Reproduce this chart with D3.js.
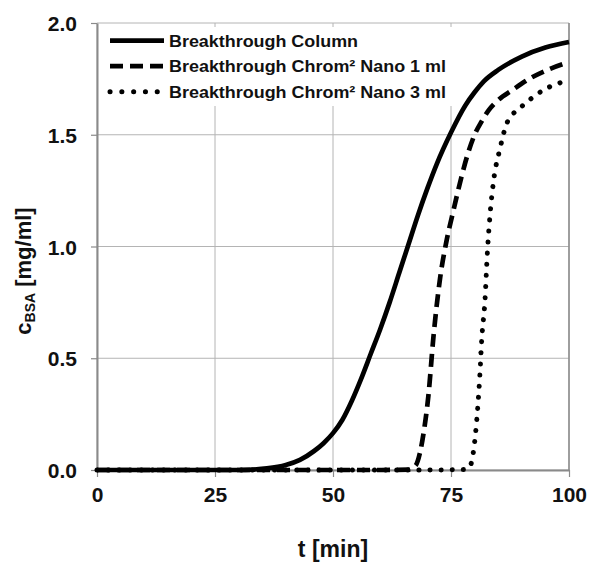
<!DOCTYPE html>
<html><head><meta charset="utf-8">
<script src="https://cdn.jsdelivr.net/npm/d3@7"></script>
<style>body{margin:0;background:#fff}svg{display:block}</style>
</head><body><svg id="c" width="589" height="562"></svg>
<script>
const xTicks = [0, 25, 50, 75, 100];
const yTicks = [0, 0.5, 1, 1.5, 2];
const yTickLabels = ["0.0", "0.5", "1.0", "1.5", "2.0"];
const seriesNames = ["Breakthrough Column", "Breakthrough Chrom\u00B2 Nano 1 ml", "Breakthrough Chrom\u00B2 Nano 3 ml"];

const tColumn = [0, 10, 20, 30, 33, 36, 40, 43, 46, 48, 50, 52, 54, 56, 58, 60, 62, 64, 66, 68, 70, 72, 75, 78, 80, 82, 85, 90, 95, 100];
const cColumn = [0, 0, 0, 0, 0.002, 0.007, 0.022, 0.045, 0.085, 0.12, 0.165, 0.225, 0.31, 0.41, 0.52, 0.63, 0.75, 0.88, 1.01, 1.14, 1.26, 1.37, 1.51, 1.63, 1.69, 1.74, 1.79, 1.85, 1.89, 1.915];

const tNano1 = [0, 10, 20, 30, 40, 50, 60, 66, 67.5, 68.4, 69.3, 70.2, 71.3, 72.7, 74.1, 75.5, 77.2, 78.5, 80, 81.5, 83, 85, 88, 92, 96, 100];
const cNano1 = [0, 0, 0, 0, 0, 0, 0, 0.002, 0.02, 0.075, 0.18, 0.33, 0.6, 0.86, 1.03, 1.16, 1.31, 1.41, 1.5, 1.56, 1.61, 1.655, 1.7, 1.755, 1.795, 1.825];

const tNano3 = [0, 10, 20, 30, 40, 50, 60, 70, 78, 79, 79.7, 80.4, 81.1, 81.5, 82.2, 82.7, 83.3, 84, 85.4, 86.8, 88, 89.6, 94.6, 100];
const cNano3 = [0, 0, 0, 0, 0, 0, 0, 0, 0.002, 0.015, 0.075, 0.21, 0.42, 0.58, 0.76, 0.97, 1.15, 1.29, 1.44, 1.55, 1.59, 1.62, 1.7, 1.745];

const svg = d3.select("#c");
const L = 97, R = 569, T = 23, B = 470;
const x = d3.scaleLinear().domain([0, 100]).range([L, R]);
const y = d3.scaleLinear().domain([0, 2]).range([B, T]);
const FONT = "'Liberation Sans', Arial, sans-serif";

// gridlines
const g = svg.append("g");
g.selectAll("line.vx").data(xTicks).enter().append("line")
  .attr("x1", d => x(d)).attr("x2", d => x(d)).attr("y1", T).attr("y2", B)
  .attr("stroke", "#b4b4b4").attr("stroke-width", 1);
g.selectAll("line.hy").data(yTicks).enter().append("line")
  .attr("x1", L).attr("x2", R).attr("y1", d => y(d)).attr("y2", d => y(d))
  .attr("stroke", "#b4b4b4").attr("stroke-width", 1);

// axes
const xAxis = d3.axisBottom(x).tickValues(xTicks).tickSize(7).tickSizeOuter(0).tickFormat(d => d);
const yAxis = d3.axisLeft(y).tickValues(yTicks).tickSize(6).tickSizeOuter(0).tickFormat((d, i) => yTickLabels[i]);
const gx = svg.append("g").attr("transform", `translate(0,${B})`).call(xAxis);
const gy = svg.append("g").attr("transform", `translate(${L},0)`).call(yAxis);
[gx, gy].forEach(a => {
  a.select(".domain").attr("stroke", "#8a8a8a").attr("stroke-width", 2);
  a.selectAll(".tick line").attr("stroke", "#8a8a8a").attr("stroke-width", 1.2);
  a.selectAll(".tick text").attr("fill", "#111").attr("font-family", FONT)
    .attr("font-weight", "bold").attr("font-size", 21);
});
gx.selectAll(".tick text").attr("y", 17).attr("dy", "0.71em");
gy.selectAll(".tick text").attr("x", -20).attr("dy", "0.36em");
// right frame
svg.append("line").attr("x1", R).attr("x2", R).attr("y1", T).attr("y2", B)
  .attr("stroke", "#8a8a8a").attr("stroke-width", 1.5);

// series
const styles = [
  {dash: null, cap: "butt"},
  {dash: "13,7", cap: "butt"},
  {dash: "0.1,11", cap: "round"}
];
const data = [
  d3.zip(tColumn, cColumn),
  d3.zip(tNano1, cNano1),
  d3.zip(tNano3, cNano3)
];
const line = d3.line().x(d => x(d[0])).y(d => y(d[1])).curve(d3.curveMonotoneX);
data.forEach((d, i) => {
  svg.append("path").datum(d).attr("d", line).attr("fill", "none")
    .attr("stroke", "#000").attr("stroke-width", i === 2 ? 5 : 4.7)
    .attr("stroke-linecap", styles[i].cap)
    .attr("stroke-linejoin", "round")
    .attr("stroke-dasharray", styles[i].dash);
});

// legend
svg.append("rect").attr("x", 100).attr("y", 27).attr("width", 355).attr("height", 79).attr("fill", "#fff");
const legW = [189, 277, 277];
seriesNames.forEach((name, i) => {
  const yy = 40.7 + i * 25.5;
  svg.append("line").attr("x1", 110).attr("x2", 164).attr("y1", yy).attr("y2", yy)
    .attr("stroke", "#000").attr("stroke-width", i === 2 ? 5 : 4.7)
    .attr("stroke-linecap", styles[i].cap)
    .attr("stroke-dasharray", i === 2 ? "0.1,11.7" : styles[i].dash);
  svg.append("text").attr("x", 169).attr("y", yy + 5.8)
    .attr("font-family", FONT).attr("font-weight", "bold").attr("font-size", 16)
    .attr("fill", "#111")
    .attr("textLength", legW[i]).attr("lengthAdjust", "spacingAndGlyphs")
    .text(name);
});

// axis titles
svg.append("text").attr("x", 333).attr("y", 557).attr("text-anchor", "middle")
  .attr("font-family", FONT).attr("font-weight", "bold").attr("font-size", 23)
  .attr("fill", "#111").text("t [min]");
const yl = svg.append("text").attr("transform", "translate(31,271) rotate(-90)")
  .attr("text-anchor", "middle").attr("font-family", FONT).attr("font-weight", "bold")
  .attr("font-size", 22).attr("fill", "#111");
yl.append("tspan").text("c");
yl.append("tspan").attr("font-size", 14).attr("dy", 4).text("BSA");
yl.append("tspan").attr("dy", -4).text(" [mg/ml]");
</script>
</body></html>
